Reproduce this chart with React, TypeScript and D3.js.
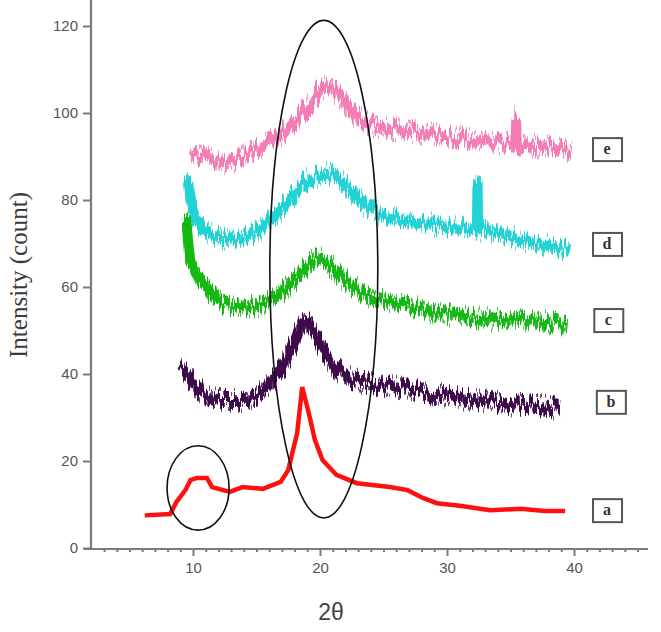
import { useEffect, useRef } from "react";
import * as d3 from "d3";

// [2θ, intensity]
const curveA: [number, number][] = [
  [6.2, 7.5], [8.2, 7.8], [8.7, 10.6], [9.4, 13.3], [9.8, 15.6], [10.3, 16.1], [11.1, 16.1],
  [11.5, 14], [12.9, 12.9], [13.9, 14], [15.5, 13.6], [16.9, 15.2], [17.5, 17.9], [18.2, 26.4],
  [18.6, 37], [19.2, 30], [19.6, 24.8], [20.2, 20.2], [21.3, 16.8], [22.9, 14.9],
  [25.5, 14], [26.9, 13.3], [28.1, 11.5], [29.2, 10.3], [31, 9.7], [33.4, 8.7], [35.8, 9],
  [37.7, 8.5], [39.3, 8.5],
];
const curveB: [number, number][] = [
  [9.1, 42], [10.5, 36.5], [12.1, 34], [13.7, 34], [15.3, 36], [16.9, 41], [18, 47.5], [18.8, 52],
  [19.6, 49], [20.8, 43], [22.4, 39], [24.7, 37.5], [27.9, 36], [31, 34.5], [34.2, 33.3],
  [37.3, 32.6], [38.9, 32.2],
];
const curveC: [number, number][] = [
  [9.5, 76], [9.8, 66], [10.9, 61], [12.5, 56], [14.5, 55.5], [16.1, 57], [17.6, 60.5],
  [18.8, 64], [19.8, 66.5], [20.8, 65], [22, 61.5], [23.9, 58], [26.3, 56], [28.7, 54.5],
  [31.8, 53], [34.2, 52.4], [37.3, 52], [39.5, 51.5],
];
const curveD: [number, number][] = [
  [9.6, 85], [9.8, 80], [10.2, 76], [11.3, 72], [13.5, 71], [16.3, 76], [17.6, 80], [19.2, 85],
  [20.6, 86], [22.1, 83], [23.7, 78.4], [25.5, 76], [28.1, 74.7], [31.8, 73.5], [32.35, 73.5],
  [32.4, 84], [32.45, 73.3], [33.2, 73], [35.8, 70.8], [39.7, 68.5],
];
const curveE: [number, number][] = [
  [9.8, 91], [10, 90.8], [12.4, 88.7], [15, 91.5], [17.6, 96.8], [19.2, 102], [20.4, 106],
  [21.6, 103.7], [22.9, 99], [24.7, 96.8], [26.9, 96], [28.9, 95], [31.8, 94], [35.4, 93],
  [35.45, 99], [35.5, 93], [38.1, 92], [39.8, 91],
];

const seriesNames = ["a", "b", "c", "d", "e"];
const seriesColors = ["#ff1010", "#3e0b4c", "#16b814", "#22d3d6", "#f47db5"];
const labelTheta = [42.6, 42.9, 42.7, 42.6, 42.6];
const labelIntensity = [8.7, 33.6, 52.4, 69.9, 91.7];

const xMajorTicks = [10, 20, 30, 40];
const yTicks = [0, 20, 40, 60, 80, 100, 120];

// ellipses drawn over the plot: [cx θ, cy intensity, rx θ, ry intensity]
const ellipses: [number, number, number, number][] = [
  [20.3, 64.1, 4.25, 57.2],
  [10.4, 13.8, 2.44, 9.7],
];

export default function App() {
  const svgRef = useRef<SVGSVGElement>(null);

  useEffect(() => {
    if (!svgRef.current) return;
    const W = 661;
    const H = 632;
    const svg = d3.select(svgRef.current);
    svg.selectAll("*").remove();

    const x = d3.scaleLinear().domain([10, 40]).range([193, 574]);
    const y = d3.scaleLinear().domain([0, 120]).range([548, 26]);
    const axisColor = "#7b7b7b";

    // jitter filters give the noisy spectrum look
    const defs = svg.append("defs");
    const addJitter = (id: string, seed: number, freq: string, scale: number) => {
      const f = defs.append("filter")
        .attr("id", id)
        .attr("filterUnits", "userSpaceOnUse")
        .attr("x", 0).attr("y", 0).attr("width", W).attr("height", H)
        .attr("color-interpolation-filters", "sRGB");
      f.append("feTurbulence")
        .attr("type", "fractalNoise")
        .attr("baseFrequency", freq)
        .attr("numOctaves", 2)
        .attr("seed", seed)
        .attr("result", "noise");
      f.append("feColorMatrix")
        .attr("in", "noise")
        .attr("type", "matrix")
        .attr("values", "0 0 0 0 0.5  0 2.2 0 0 -0.6  0 0 1 0 0  0 0 0 0 1")
        .attr("result", "m");
      f.append("feDisplacementMap")
        .attr("in", "SourceGraphic")
        .attr("in2", "m")
        .attr("scale", scale)
        .attr("xChannelSelector", "R")
        .attr("yChannelSelector", "G");
    };
    addJitter("jitterA", 7, "0.45 0.004", 14);
    addJitter("jitterB", 23, "0.7 0.004", 22);

    // x axis
    svg.append("line")
      .attr("x1", 84).attr("x2", 648)
      .attr("y1", y(0) + 1).attr("y2", y(0) + 1)
      .attr("stroke", axisColor).attr("stroke-width", 2.2);
    const minor = d3.range(3, 46).filter((v) => !xMajorTicks.includes(v));
    svg.append("g")
      .attr("transform", `translate(0,${y(0) + 1})`)
      .call(d3.axisBottom(x).tickValues(minor).tickSize(3).tickFormat(() => ""))
      .call((g) => g.select(".domain").remove())
      .call((g) => g.selectAll("line").attr("stroke", axisColor).attr("stroke-width", 2));
    svg.append("g")
      .attr("transform", `translate(0,${y(0) + 1})`)
      .call(d3.axisBottom(x).tickValues(xMajorTicks).tickSize(7).tickPadding(6).tickFormat(d3.format("d")))
      .call((g) => g.select(".domain").remove())
      .call((g) => g.selectAll("line").attr("stroke", axisColor).attr("stroke-width", 2))
      .call((g) => g.selectAll("text")
        .attr("font-family", "Liberation Sans, Arial, sans-serif")
        .attr("font-size", 15).attr("fill", "#555"));

    // y axis
    svg.append("line")
      .attr("x1", 91).attr("x2", 91)
      .attr("y1", 0).attr("y2", y(0) + 2)
      .attr("stroke", axisColor).attr("stroke-width", 2.2);
    svg.append("g")
      .attr("transform", "translate(91,0)")
      .call(d3.axisLeft(y).tickValues(yTicks).tickSize(8).tickPadding(5).tickFormat(d3.format("d")))
      .call((g) => g.select(".domain").remove())
      .call((g) => g.selectAll("line").attr("stroke", axisColor).attr("stroke-width", 2))
      .call((g) => g.selectAll("text")
        .attr("font-family", "Liberation Sans, Arial, sans-serif")
        .attr("font-size", 15).attr("fill", "#555"));

    // axis titles
    svg.append("text")
      .attr("transform", `translate(27,275) rotate(-90)`)
      .attr("text-anchor", "middle")
      .attr("font-family", "Liberation Serif, Times New Roman, serif")
      .attr("font-size", 25)
      .attr("fill", "#3a3a3a")
      .text("Intensity (count)");
    svg.append("text")
      .attr("x", 331).attr("y", 620)
      .attr("text-anchor", "middle")
      .attr("font-family", "Liberation Sans, Arial, sans-serif")
      .attr("font-size", 23)
      .attr("fill", "#444")
      .text("2θ");

    // spectra
    const smooth = d3.line<[number, number]>()
      .x((d) => x(d[0]))
      .y((d) => y(d[1]))
      .curve(d3.curveMonotoneX);
    const sharp = d3.line<[number, number]>()
      .x((d) => x(d[0]))
      .y((d) => y(d[1]));
    const curves = [curveA, curveB, curveC, curveD, curveE];
    curves.forEach((pts, i) => {
      if (i === 0) {
        svg.append("path")
          .datum(pts)
          .attr("d", sharp)
          .attr("fill", "none")
          .attr("stroke", seriesColors[i])
          .attr("stroke-width", 4.5)
          .attr("stroke-linejoin", "miter");
        return;
      }
      // wide ragged band
      svg.append("path")
        .datum(pts)
        .attr("d", smooth)
        .attr("fill", "none")
        .attr("stroke", seriesColors[i])
        .attr("stroke-width", 10)
        .attr("stroke-linejoin", "round")
        .attr("filter", "url(#jitterA)");
      // thinner, longer spikes
      svg.append("path")
        .datum(pts)
        .attr("d", smooth)
        .attr("fill", "none")
        .attr("stroke", seriesColors[i])
        .attr("stroke-width", 4)
        .attr("stroke-opacity", 0.75)
        .attr("stroke-linejoin", "round")
        .attr("filter", "url(#jitterB)");
    });

    // ellipses
    svg.append("g")
      .selectAll("ellipse")
      .data(ellipses)
      .join("ellipse")
      .attr("cx", (d) => x(d[0]))
      .attr("cy", (d) => y(d[1]))
      .attr("rx", (d) => x(d[0] + d[2]) - x(d[0]))
      .attr("ry", (d) => y(d[1] - d[3]) - y(d[1]))
      .attr("fill", "none")
      .attr("stroke", "#111")
      .attr("stroke-width", 1.6);

    // series labels in boxes
    const lab = svg.append("g")
      .selectAll("g")
      .data(seriesNames)
      .join("g")
      .attr("transform", (_d, i) => `translate(${x(labelTheta[i])},${y(labelIntensity[i])})`);
    lab.append("rect")
      .attr("x", -14).attr("y", -11)
      .attr("width", 29).attr("height", 23)
      .attr("fill", "#fff")
      .attr("stroke", "#555")
      .attr("stroke-width", 2);
    lab.append("text")
      .attr("text-anchor", "middle")
      .attr("dy", "0.33em")
      .attr("font-family", "Liberation Serif, Times New Roman, serif")
      .attr("font-weight", 700)
      .attr("font-size", 16)
      .attr("fill", "#333")
      .text((d) => d);
  }, []);

  return (
    <svg
      ref={svgRef}
      width={661}
      height={632}
      style={{ position: "absolute", left: 0, top: 0, background: "#fff", display: "block" }}
    />
  );
}
